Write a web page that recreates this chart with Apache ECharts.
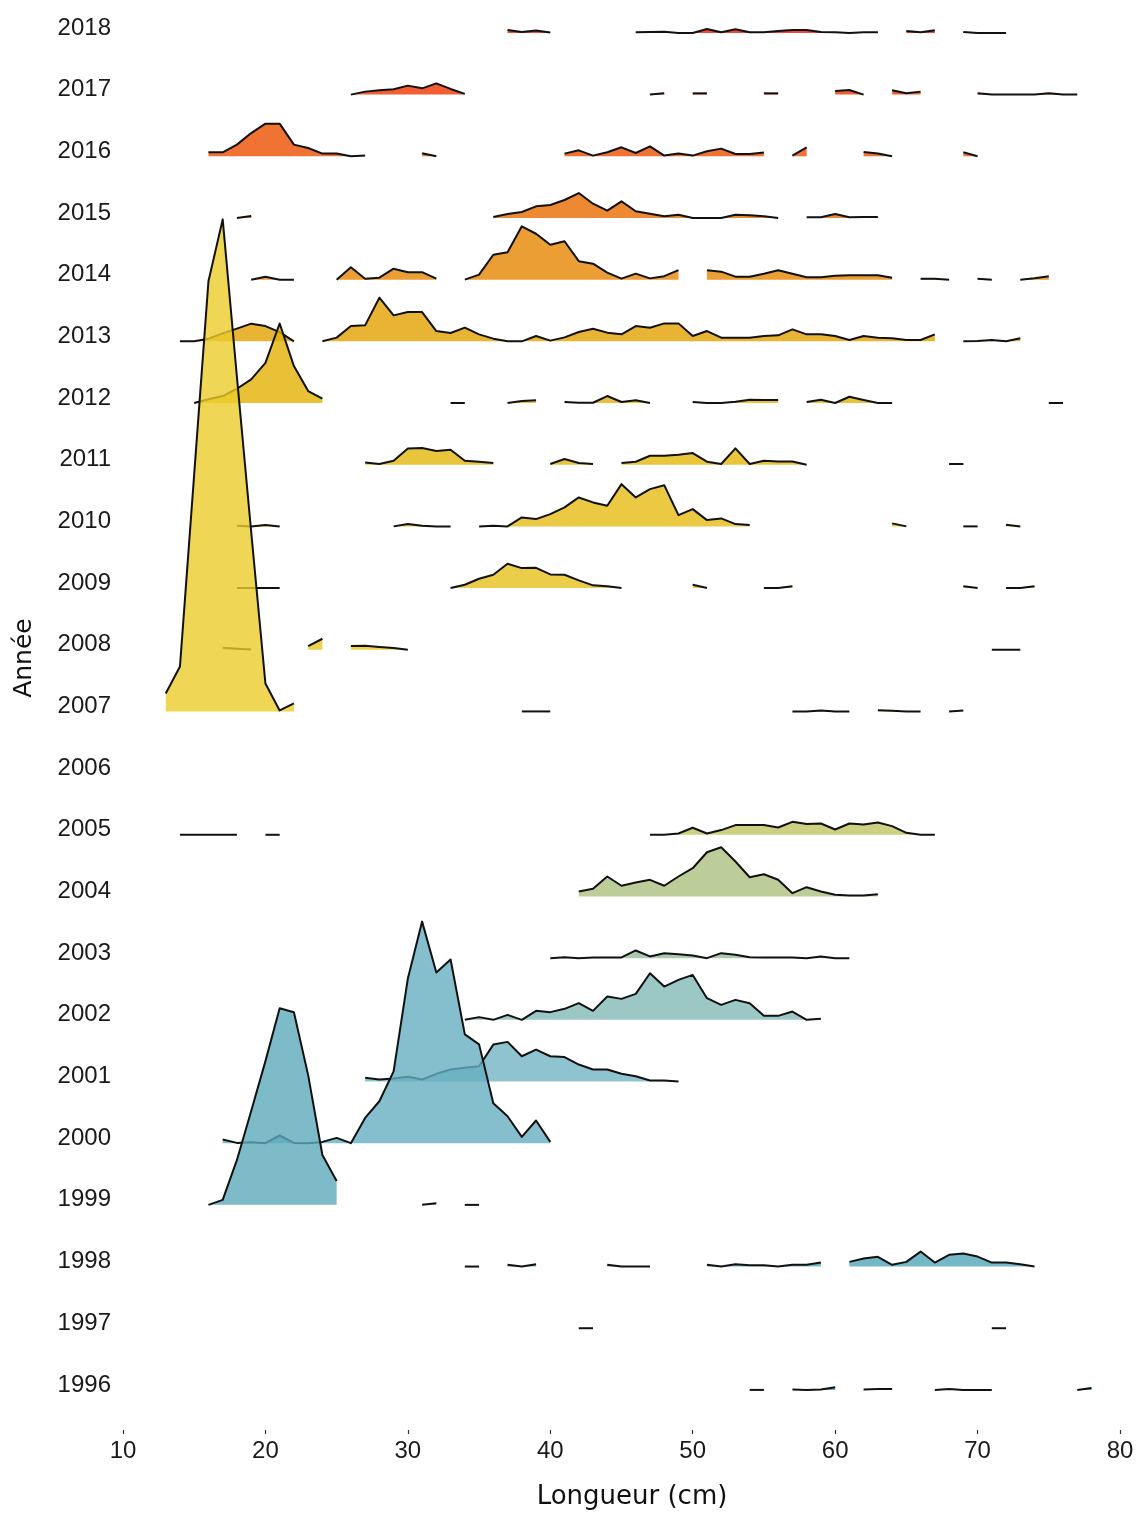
<!DOCTYPE html>
<html><head><meta charset="utf-8">
<script src="https://cdn.jsdelivr.net/npm/echarts@6/dist/echarts.min.js"></script>
<style>html,body{margin:0;padding:0;background:#fff}#c{width:1138px;height:1515px}</style>
</head><body><div id="c"></div>
<script>
// Each ridge: list of [start length (cm), heights at consecutive integer cm]; gaps = missing values
const d2018 = [[37,[3,1,2.5,0.5]],[46,[0.7,1,1.3,0,0,4,0.7,3.7,0.7,0.7,2,3,3,1,0.7,0,0.7,0.7]],[65,[2,0.7,2.7]],[69,[1,0,0,0]]];
const d2017 = [[26,[0,3,4.3,5.3,9,6.3,11.3,5.7,0.7]],[47,[0,1.3]],[50,[1.3,1.3]],[55,[1.3,1.3]],[60,[3.7,4.7,0]],[64,[4.3,1.3,3]],[70,[1.3,0,0,0,0,1.3,0,0]]];
const d2016 = [[16,[4,4,11.7,23.3,32.7,32.7,11.7,8.3,2.7,2.7,0,0.7]],[31,[3,0]],[41,[2.7,6,0.7,4,9,3.3,10,0.7,2.7,0.7,5,7.7,2.3,2.3,3.7]],[57,[0.7,9]],[62,[4.3,2.7,0]],[69,[4,0]]];
const d2015 = [[18,[0,2]],[36,[1,4,6,11.7,13,18,25,14.3,7.3,16.7,6.7,4.3,1.7,3.3,0,0,0,3.3,2.7,1.7,0]],[58,[0.7,0.7,4,0.7,1,1]]];
const d2014 = [[19,[0,3,0,0]],[25,[0,12.5,1,2,11,7.5,7.5,1]],[34,[0,5,25,27.5,53.5,46,35,38.5,18.5,16,7,1,6,1.3,3.5,9.5]],[51,[9.5,8,3,3,6,9.5,6,2.5,2.5,4,4.5,4.5,4.5,2]],[66,[1,1,0]],[70,[1,0]],[73,[0,1.5,3.5]]];
const d2013 = [[14,[0,0,2.7,8,12.7,17.7,15.3,9.3,0]],[24,[0,3.7,15.3,16,43.7,26,29.3,29.3,10.3,8.3,13.7,7,2.7,0,0,5.3,0.7,4,9.3,12.7,8.7,7,15.3,13.7,18,18,5.3,10.3,3.7,3.7,3.7,5.3,6,12,7,7,5.3,1.3,5.3,3.7,3,1.3,1.3,7]],[69,[0,0.3,1.3,0,3]]];
const d2012 = [[15,[0,3.7,7,14.3,23.7,40.3,79.7,37,12,4.3]],[33,[0,0]],[37,[0,2,2.7]],[41,[1,0.3,0.3,7,1,2.7,0]],[50,[1,0,0,1.3,3.3,3,3]],[58,[1,3.3,0,6.3,3,0,0]],[75,[0,0]]];
const d2011 = [[27,[2.3,0.7,4,16.3,16.7,13.7,15,4,3,1.7]],[40,[0.7,5.7,1.7,0.7]],[45,[1.7,3,9,9,10,11.7,3,0.7,16.3,0.7,4,3.3,3.3,0]],[68,[0.7,0.7]]];
const d2010 = [[18,[0.7,0,1.3,0]],[29,[0,2.3,0.7,0,0]],[35,[0,0.7,0,9,7.3,12.3,19,29,24,20.7,42.3,29,37.3,41.3,11.3,17.3,6.3,8,2.3,1.3]],[64,[3,0]],[69,[0,0]],[72,[1.7,0]]];
const d2009 = [[18,[0,0,0,0]],[33,[0,3.3,9.3,13.3,24.3,20,20.3,13.7,13.3,7.7,2.7,1.7,0]],[50,[3.3,0]],[55,[0,0,1.7]],[69,[1.7,0]],[72,[0,0,1.7]]];
const d2008 = [[17,[2,1,0.3]],[23,[3.7,11]],[26,[3.7,4,2.7,1.7,0]],[71,[0,0,0]]];
const d2007 = [[13,[18,45,238,431,493,335,180,28,1,8]],[38,[0,0,0]],[57,[0,0,1,0,0]],[63,[1.3,0.7,0,0]],[68,[0,1]]];
const d2006 = [];
const d2005 = [[14,[0,0,0,0,0]],[20,[0,0]],[47,[0,0,1.3,7,1.3,4.7,9.7,9.7,9.7,7.3,13,10.7,11.3,5.3,11.3,10.3,12.3,8.7,2,0,0]]];
const d2004 = [[42,[5,7.7,20,10.7,14,16.7,10.7,20,28.3,44.3,49.3,35,19.3,22.3,16.7,3.3,9.3,5,1.7,1,1,2.3]]];
const d2003 = [[40,[0,1,0,0.7,0.7,0.7,7.7,1.7,5,4,2.7,0,5,3.3,1,0.7,0.7,0.7,0,1.7,0,0]]];
const d2002 = [[34,[0,2.7,0,5,0,9,7.7,11,16.7,9,23.3,21,26,46.7,33.3,40,45,21.7,15,20,16.7,4,4,8.3,0,1]]];
const d2001 = [[27,[3.7,2,3,4.7,2,7.7,12,13.7,15.3,37,39.7,25.3,32,25.3,24.5,17,12,12,7.7,5.3,1,1,0]]];
const d2000 = [[17,[3.7,0.3,1,0,7.7,0.3,0,1.3,5.3,0,25.3,42,72,165,222,171,184,109,99,40,27,6.3,22.7,1.3]]];
const d1999 = [[16,[0,5,45,94,144,197,193,130,50,24]],[31,[0,1.7]],[34,[0,0]]];
const d1998 = [[34,[0,0]],[37,[1.7,0,2.3]],[44,[1.7,0,0,0]],[51,[1.7,0,2.3,1.3,1.3,0,1.7,1.7,4]],[61,[4.7,8,9.7,1.7,4.7,15,4,11.7,13,10,4,4,2.3,0]]];
const d1997 = [[42,[0,0]],[71,[0,0]]];
const d1996 = [[54,[0,0]],[57,[0.3,0,0.3,2.7]],[62,[0.3,1,1]],[67,[0,1,0,0,0]],[77,[0,2]]];

const years = [2018,2017,2016,2015,2014,2013,2012,2011,2010,2009,2008,2007,2006,2005,2004,2003,2002,2001,2000,1999,1998,1997,1996];
const yearLabels = years.slice().reverse();
const xTicks = [10,20,30,40,50,60,70,80];
const ridges = {2018:d2018,2017:d2017,2016:d2016,2015:d2015,2014:d2014,2013:d2013,2012:d2012,2011:d2011,2010:d2010,2009:d2009,2008:d2008,2007:d2007,2006:d2006,2005:d2005,2004:d2004,2003:d2003,2002:d2002,2001:d2001,2000:d2000,1999:d1999,1998:d1998,1997:d1997,1996:d1996};

const palette = ['#3B9AB2','#78B7C5','#EBCC2A','#E1AF00','#F21A00'];
const HEIGHT_TO_ROWS = 1/61.8;
const FILL_ALPHA = 0.8;

function hex2rgb(h){return [parseInt(h.slice(1,3),16),parseInt(h.slice(3,5),16),parseInt(h.slice(5,7),16)];}
function colorFor(year){
  const t = (year - 1996)/(2018 - 1996);
  const p = t*(palette.length-1);
  const i = Math.min(Math.floor(p), palette.length-2);
  const f = p - i;
  const a = hex2rgb(palette[i]), b = hex2rgb(palette[i+1]);
  const c = a.map((v,k)=>Math.round(v + (b[k]-v)*f));
  return 'rgba('+c[0]+','+c[1]+','+c[2]+','+FILL_ALPHA+')';
}

function renderItem(params, api){
  const year = api.value(1);
  const segs = ridges[year] || [];
  const fill = colorFor(year);
  const polys = [], lines = [];
  segs.forEach(function(seg){
    const x0 = seg[0], hs = seg[1];
    const pts = hs.map(function(h,i){return api.coord([x0+i, year + h*HEIGHT_TO_ROWS]);});
    const b0 = api.coord([x0, year]);
    const b1 = api.coord([x0+hs.length-1, year]);
    polys.push({type:'polygon', shape:{points: pts.concat([b1,b0])}, style:{fill: fill, stroke: null}});
    lines.push({type:'polyline', shape:{points: pts}, style:{stroke:'#111', lineWidth:2, fill:null, lineJoin:'round'}});
  });
  return {type:'group', children: polys.concat(lines)};
}

const chart = echarts.init(document.getElementById('c'));
chart.setOption({
  animation:false,
  backgroundColor:'#fff',
  grid:{left:123,right:18,top:2.1,bottom:82.2,containLabel:false},
  xAxis:{
    type:'value', min:10, max:80, interval:10,
    axisLine:{show:false},
    axisTick:{show:true,length:4,lineStyle:{color:'#333',width:1.2},customValues:xTicks},
    axisLabel:{customValues:xTicks,fontFamily:'Liberation Sans',fontSize:24,color:'#1a1a1a',margin:9},
    splitLine:{show:false},
    name:'Longueur (cm)', nameLocation:'middle', nameGap:54,
    nameTextStyle:{fontFamily:'DejaVu Sans',fontSize:26,color:'#111',padding:[0,0,0,21]}
  },
  yAxis:{
    type:'value', min:1995.35, max:2018.5,
    axisLine:{show:false}, axisTick:{show:false}, splitLine:{show:false},
    axisLabel:{customValues:yearLabels,fontFamily:'Liberation Sans',fontSize:24,color:'#1a1a1a',margin:12,
      verticalAlign:'bottom',lineHeight:10,formatter:function(v){return String(v);}},
    name:'Année', nameLocation:'middle', nameGap:86, nameRotate:90,
    nameTextStyle:{fontFamily:'DejaVu Sans',fontSize:25,color:'#111',padding:[0,0,0,116]}
  },
  series:[{
    type:'custom', renderItem: renderItem, clip:false,
    encode:{x:0,y:1},
    data: years.map(function(y){return [10,y];})
  }]
});
</script></body></html>
